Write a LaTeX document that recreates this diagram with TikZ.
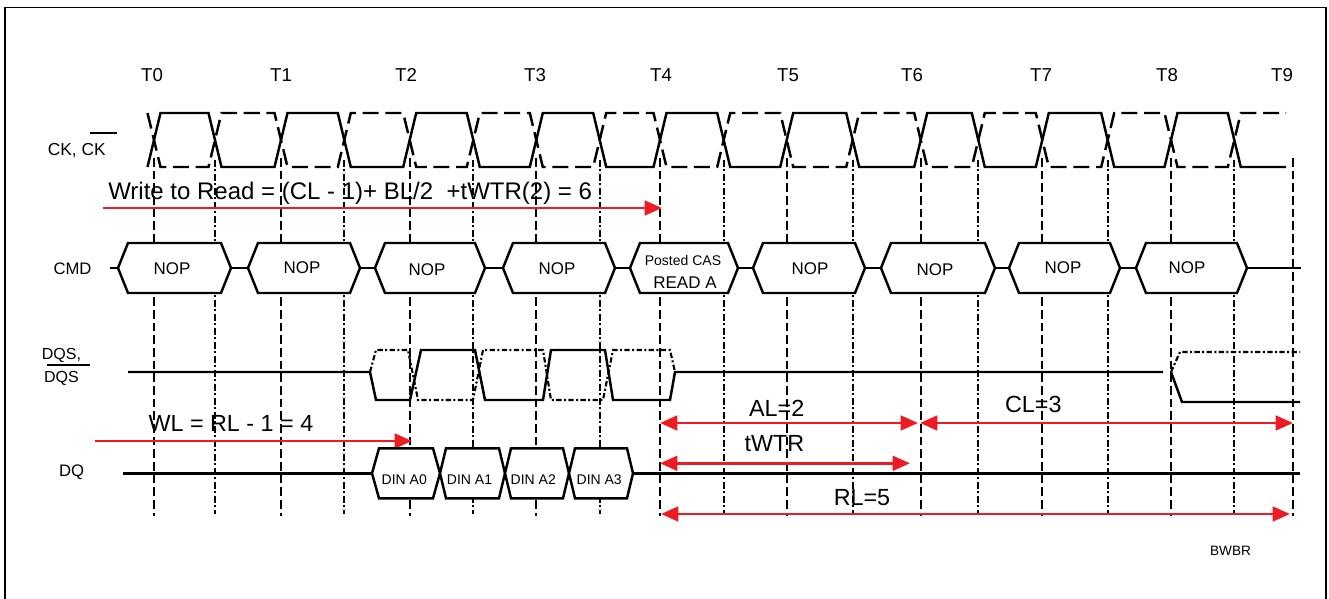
\documentclass[tikz,border=0pt]{standalone}
\usepackage{fontspec}
\setmainfont{Liberation Sans}
\usetikzlibrary{arrows.meta,calc}
\definecolor{arrred}{HTML}{ED1C24}
\newcommand{\hexbox}[6]{%
  \coordinate (#1w) at (#2,#4);
  \coordinate (#1e) at (#3,#4);
  \draw[wave,fill=white] (#1w) -- (#2+#6,#4-#5) -- (#3-#6,#4-#5) -- (#1e) -- (#3-#6,#4+#5) -- (#2+#6,#4+#5) -- cycle;}
\begin{document}
\begin{tikzpicture}[x=0.75pt,y=-0.75pt,
  wave/.style={line width=1.85pt, line join=miter},
  ckb/.style={line width=1.85pt, dash pattern=on 12pt off 5pt},
  tline/.style={line width=1.6pt, dash pattern=on 6.5pt off 3pt},
  hline/.style={line width=1.6pt, dash pattern=on 5pt off 2pt on 1.5pt off 2pt},
  dqsb/.style={line width=1.6pt, dash pattern=on 4pt off 1.8pt on 1.5pt off 1.8pt},
  redarr/.style={draw=arrred, line width=2pt, -{Triangle[length=13pt,width=11pt]}},
  redboth/.style={draw=arrred, line width=2pt, {Triangle[length=13pt,width=11pt]}-{Triangle[length=13pt,width=11pt]}},
  lbl/.style={inner sep=0pt, anchor=base, font=\fontsize{12.5}{14}\selectfont},
  tlbl/.style={inner sep=0pt, anchor=base, font=\fontsize{14}{16}\selectfont},
  big/.style={inner sep=0pt, anchor=base, font=\fontsize{17.5}{20}\selectfont},
  nop/.style={inner sep=0pt, anchor=base, font=\fontsize{12.7}{14}\selectfont},
  din/.style={inner sep=0pt, anchor=base, font=\fontsize{10.5}{12}\selectfont}
]
\useasboundingbox (0,0) rectangle (1329,599);
% frame
\draw[line width=1pt] (5,599) -- (5,7.5) -- (1326,7.5) -- (1326,599);

% timing labels
\foreach \x/\t in {152/T0,281/T1,406/T2,535/T3,661/T4,788/T5,912/T6,1041/T7,1167/T8,1282/T9}
  \node[tlbl] (lab\t) at (\x,82) {\t};

% vertical reference lines
\foreach \x in {154,281,409.7,536.3,660,786.7,920.7,1042.3,1171,1292.7}
  \draw[tline] (\x,158) -- (\x,516);
\foreach \x in {215,344.3,473.3,599.7,723.7,852.7,978.3,1107.7,1234.3}
  \draw[hline] (\x,160) -- (\x,514);

% clock
\node[lbl, font=\fontsize{13}{15}\selectfont] (cklbl) at (76.7,156) {CK, CK};
\draw[line width=1.4pt] (90,133) -- (117,133);
\draw[wave] (147.5,167) \foreach \t/\h/\n in {154/215/281, 281/344.3/409.7, 409.7/473.3/536.3, 536.3/599.7/660, 660/723.7/786.7, 786.7/852.7/920.7, 920.7/978.3/1042.3, 1042.3/1107.7/1171, 1171/1234.3/1292.7}
  { -- (\t+6.5,113) -- (\h-6.5,113) -- (\h+6.5,167) -- (\n-6.5,167) };
\draw[ckb] (147.5,113) \foreach \t/\h/\n in {154/215/281, 281/344.3/409.7, 409.7/473.3/536.3, 536.3/599.7/660, 660/723.7/786.7, 786.7/852.7/920.7, 920.7/978.3/1042.3, 1042.3/1107.7/1171, 1171/1234.3/1292.7}
  { -- (\t+6.5,167) -- (\h-6.5,167) -- (\h+6.5,113) -- (\n-6.5,113) };

% write to read arrow
\coordinate (wr0) at (103,208);
\coordinate (wr1) at (662,208);
\draw[redarr] (wr0) -- (wr1);
\node[inner sep=0pt, anchor=base west, font=\fontsize{18}{20}\selectfont] (wrt) at (108,200) {Write to Read = (CL - 1)+ BL/2\ \ +tWTR(2) = 6};

% CMD row
\node[lbl] (cmdlbl) at (72.5,275) {CMD};
\coordinate (cmd0) at (110,268);
\coordinate (cmd1) at (1301,268);
\hexbox{c1}{118}{231}{268}{25}{10}
\hexbox{c2}{248}{360}{268}{25}{10}
\hexbox{c3}{375}{485}{268}{25}{10}
\hexbox{c4}{503}{615}{268}{25}{10}
\hexbox{c5}{630}{738}{268}{25}{10}
\hexbox{c6}{753}{865}{268}{25}{10}
\hexbox{c7}{881}{995}{268}{25}{10}
\hexbox{c8}{1009}{1120}{268}{25}{10}
\hexbox{c9}{1136}{1247}{268}{25}{10}
\draw[wave] (cmd0) -- (c1w);
\draw[wave] (c1e) -- (c2w);
\draw[wave] (c2e) -- (c3w);
\draw[wave] (c3e) -- (c4w);
\draw[wave] (c4e) -- (c5w);
\draw[wave] (c5e) -- (c6w);
\draw[wave] (c6e) -- (c7w);
\draw[wave] (c7e) -- (c8w);
\draw[wave] (c8e) -- (c9w);
\draw[wave] (c9e) -- (cmd1);
\node[nop] (n1) at (172,275) {NOP};
\node[nop] (n2) at (302,274) {NOP};
\node[nop] (n3) at (427,276) {NOP};
\node[nop] (n4) at (557,275) {NOP};
\node[inner sep=0pt, anchor=base, font=\fontsize{10.5}{12}\selectfont] (n5a) at (683,266) {Posted CAS};
\node[inner sep=0pt, anchor=base, font=\fontsize{12.75}{14}\selectfont] (n5b) at (685,289) {READ A};
\node[nop] (n6) at (810,275) {NOP};
\node[nop] (n7) at (935,276) {NOP};
\node[nop] (n8) at (1063,274) {NOP};
\node[nop] (n9) at (1187,274) {NOP};

% DQS row
\node[lbl, font=\fontsize{12}{14}\selectfont] (dqslbl1) at (61.5,359) {DQS,};
\node[lbl, font=\fontsize{12}{14}\selectfont] (dqslbl2) at (61.5,382) {DQS};
\draw[line width=1.4pt] (47,365) -- (90,365);
\coordinate (dqs0) at (128,372);
\coordinate (dqs1) at (1163,372);
\draw[wave] (dqs0) -- (370,372) -- (376,400) -- (410,400) -- (421,350) -- (475,350) -- (485,400) -- (543,400) -- (551,350) -- (605,350) -- (613,400) -- (670,400) -- (675,372) -- (dqs1);
\draw[dqsb] (370,372) -- (376,350) -- (408,350) -- (418,400) -- (473,400) -- (483,350) -- (543,350) -- (551,400) -- (603,400) -- (613,350) -- (670,350) -- (675,372);
\draw[wave] (1171,372) -- (1182,402) -- (1300,402);
\draw[dqsb] (1171,372) -- (1180,352) -- (1300,352);

% WL arrow
\coordinate (wl0) at (95,441);
\coordinate (wl1) at (412,441);
\draw[redarr] (wl0) -- (wl1);
\node[big, anchor=base west] (wlt) at (148.3,431) {WL = RL - 1 = 4};

% AL, CL, tWTR, RL arrows
\coordinate (al0) at (660,423);
\coordinate (al1) at (918,423);
\coordinate (cl0) at (920,423);
\coordinate (cl1) at (1293,423);
\coordinate (tw0) at (660,463.3);
\coordinate (tw1) at (910,463.3);
\coordinate (rl0) at (661,514);
\coordinate (rl1) at (1290,514);
\draw[redboth] (al0) -- (al1);
\draw[redboth] (cl0) -- (cl1);
\draw[redboth] (tw0) -- (tw1);
\draw[redboth] (rl0) -- (rl1);
\node[big] (alt) at (776.7,416) {AL=2};
\node[big] (clt) at (1033.3,412.7) {CL=3};
\node[big] (twt) at (774.5,451.7) {tWTR};
\node[big] (rlt) at (862,505) {RL=5};

% DQ row
\node[lbl] (dqlbl) at (71.7,476) {DQ};
\coordinate (dq0) at (123,473.3);
\coordinate (dq1) at (1300,473.3);
\hexbox{d0}{372}{440}{473.3}{25}{7}
\hexbox{d1}{440}{505}{473.3}{25}{6}
\hexbox{d2}{505}{569}{473.3}{25}{6}
\hexbox{d3}{569}{633}{473.3}{25}{6}
\draw[wave] (dq0) -- (d0w);
\draw[wave] (d3e) -- (dq1);
\node[din] (a0) at (404.3,484) {DIN A0};
\node[din] (a1) at (469.5,484) {DIN A1};
\node[din] (a2) at (533.3,484) {DIN A2};
\node[din] (a3) at (599.2,484) {DIN A3};

\node[inner sep=0pt, anchor=base, font=\fontsize{10.2}{12}\selectfont] (bwbr) at (1230.5,555) {BWBR};
\end{tikzpicture}
\end{document}
